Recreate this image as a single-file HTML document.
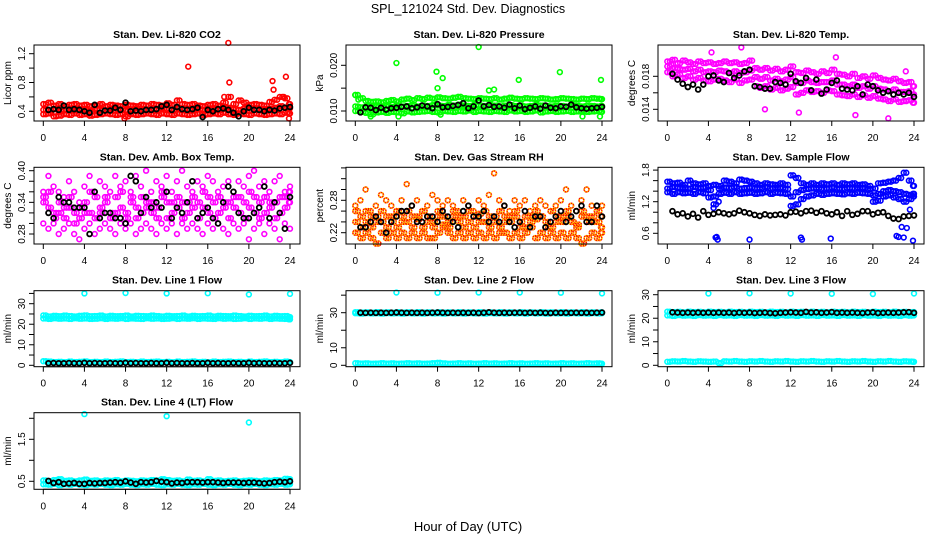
<!DOCTYPE html>
<html><head><meta charset="utf-8"><style>
html,body{margin:0;padding:0;background:#fff}
svg{display:block;font-family:"Liberation Sans",Arial,sans-serif}
</style></head><body>
<svg id="chart" width="936" height="540" viewBox="0 0 936 540">
<text x="468" y="13" text-anchor="middle" font-size="12.5">SPL_121024  Std. Dev. Diagnostics</text>
<text x="468" y="531" text-anchor="middle" font-size="13">Hour of Day (UTC)</text>
</svg>
<script>
const hours=[0,0.5,1,1.5,2,2.5,3,3.5,4,4.5,5,5.5,6,6.5,7,7.5,8,8.5,9,9.5,10,10.5,11,11.5,12,12.5,13,13.5,14,14.5,15,15.5,16,16.5,17,17.5,18,18.5,19,19.5,20,20.5,21,21.5,22,22.5,23,23.5,24];
const hoursQ=[0.25,0.75,1.25,1.75,2.25,2.75,3.25,3.75,4.25,4.75,5.25,5.75,6.25,6.75,7.25,7.75,8.25,8.75,9.25,9.75,10.25,10.75,11.25,11.75,12.25,12.75,13.25,13.75,14.25,14.75,15.25,15.75,16.25,16.75,17.25,17.75,18.25,18.75,19.25,19.75,20.25,20.75,21.25,21.75,22.25,22.75,23.25,23.75,23.9];
const xTicks=[0,4,8,12,16,20,24];
// CO2
const co2Hi=[.50,.52,.48,.50,.47,.49,.50,.48,.49,.47,.48,.50,.47,.49,.48,.47,.49,.48,.47,.49,.48,.50,.49,.48,.51,.49,.55,.50,.49,.50,.48,.47,.49,.50,.48,.52,.60,.50,.55,.52,.49,.50,.49,.48,.53,.56,.60,.58,.50];
const co2Lo=[.36,.37,.33,.34,.36,.35,.37,.35,.36,.34,.35,.36,.37,.36,.35,.36,.33,.36,.35,.36,.37,.36,.35,.37,.36,.35,.37,.36,.35,.36,.37,.35,.36,.37,.36,.38,.36,.35,.37,.36,.35,.37,.36,.35,.36,.37,.36,.38,.37];
const co2Mid=[.42,.41,.43,.40,.42,.44,.41,.43,.42,.40,.43,.42,.41,.44,.42,.43,.41,.42,.44,.42,.41,.43,.42,.44,.43,.42,.45,.43,.42,.41,.43,.42,.44,.43,.42,.46,.45,.43,.42,.44,.41,.43,.42,.43,.44,.45,.47,.45,.44];
const co2Black=[null,.42,.43,.42,.48,.42,.43,.42,.40,.38,.49,.38,.41,.41,.45,.42,.52,.40,.41,.40,.42,.42,.43,.47,.49,.42,.46,.43,.42,.43,.45,.32,.42,.40,.43,.44,.42,.38,.33,.40,.45,.42,.42,.40,.42,.41,.44,.45,.46];
const co2OutX=[14.1,18,18.1,17.6,22.3,22.4,23.6,23.4,23.9,7.9];
const co2OutY=[1.02,1.35,.80,.60,.82,.70,.88,.60,.30,.30];
// Pressure
const presHi=[.0135,.0128,.0122,.0120,.0121,.0119,.0122,.0124,.0121,.0125,.0127,.0124,.0128,.0126,.0129,.0127,.0130,.0128,.0127,.0129,.0131,.0128,.0127,.0126,.0128,.0127,.0126,.0128,.0125,.0127,.0129,.0127,.0126,.0128,.0127,.0126,.0128,.0127,.0125,.0126,.0128,.0127,.0126,.0125,.0127,.0126,.0128,.0127,.0126];
const presLo=[.0100,.0098,.0096,.0093,.0097,.0098,.0096,.0098,.0097,.0095,.0099,.0097,.0098,.0099,.0100,.0098,.0097,.0100,.0099,.0098,.0100,.0099,.0101,.0098,.0100,.0099,.0098,.0100,.0099,.0098,.0101,.0099,.0100,.0098,.0099,.0101,.0097,.0099,.0100,.0098,.0099,.0100,.0098,.0099,.0100,.0098,.0099,.0100,.0098];
const presMid=[.0110,.0108,.0109,.0107,.0110,.0108,.0111,.0109,.0112,.0110,.0111,.0113,.0110,.0112,.0111,.0113,.0112,.0111,.0113,.0112,.0114,.0112,.0111,.0113,.0112,.0111,.0113,.0112,.0110,.0112,.0113,.0111,.0112,.0110,.0111,.0113,.0112,.0111,.0110,.0112,.0111,.0110,.0112,.0111,.0110,.0112,.0111,.0110,.0111];
const presBlack=[null,.0097,.0108,.0107,.0102,.0107,.0103,.0106,.0107,.0109,.0110,.0106,.0108,.0112,.0110,.0106,.0115,.0108,.0109,.0111,.0113,.0117,.0106,.0110,.0123,.0110,.0113,.0109,.0110,.0107,.0114,.0106,.0112,.0104,.0107,.0110,.0105,.0112,.0107,.0106,.0110,.0109,.0114,.0108,.0106,.0105,.0106,.0107,.0109];
const presOutX=[0,0.3,4,7.9,8,8.5,12,13,13.5,15.9,19.9,23.9,1.5,4.2,8.3,22.1,23.8];
const presOutY=[.0135,.0125,.0205,.0186,.0150,.0172,.0240,.0145,.0147,.0168,.0185,.0168,.0088,.0088,.0092,.0088,.0088];
// Li-820 temp
const tHi=[.0198,.0200,.0196,.0199,.0197,.0195,.0198,.0196,.0197,.0195,.0196,.0198,.0196,.0197,.0195,.0196,.0199,.0190,.0188,.0190,.0187,.0189,.0186,.0188,.0192,.0185,.0184,.0187,.0185,.0183,.0186,.0184,.0188,.0183,.0182,.0180,.0183,.0178,.0180,.0177,.0181,.0178,.0176,.0175,.0177,.0174,.0172,.0173,.0168];
const tLo=[.0185,.0180,.0182,.0178,.0180,.0176,.0178,.0175,.0174,.0176,.0177,.0175,.0173,.0176,.0172,.0175,.0176,.0168,.0166,.0168,.0164,.0166,.0163,.0165,.0167,.0158,.0160,.0163,.0161,.0162,.0160,.0163,.0162,.0158,.0157,.0156,.0158,.0155,.0157,.0154,.0156,.0153,.0152,.0150,.0152,.0149,.0150,.0151,.0148];
const tMid=[.0192,.0190,.0189,.0188,.0189,.0186,.0188,.0185,.0186,.0185,.0187,.0186,.0184,.0186,.0184,.0185,.0187,.0179,.0177,.0179,.0175,.0177,.0174,.0176,.0179,.0172,.0172,.0175,.0173,.0172,.0173,.0173,.0175,.0170,.0170,.0168,.0170,.0166,.0168,.0165,.0168,.0165,.0164,.0162,.0164,.0161,.0161,.0162,.0158];
const tBlack=[null,.0183,.0176,.0171,.0167,.0170,.0164,.0170,.0180,.0181,.0175,.0173,.0184,.0178,.0181,.0186,.0188,.0168,.0167,.0165,.0165,.0173,.0172,.0170,.0183,.0174,.0172,.0178,.0163,.0176,.0159,.0164,.0172,.0175,.0165,.0164,.0163,.0168,.0158,.0170,.0168,.0163,.0160,.0162,.0158,.0160,.0158,.0160,.0155];
const tOutX=[7.2,4.3,16.4,9.5,12.8,18.3,21.5,23.2,0.4];
const tOutY=[.0215,.0209,.0203,.0140,.0136,.0133,.0129,.0186,.0194];
// Amb box temp
const ambHi=[.36,.39,.37,.36,.35,.38,.36,.34,.37,.39,.36,.38,.37,.36,.39,.37,.38,.36,.39,.37,.40,.36,.38,.37,.39,.36,.38,.40,.37,.36,.38,.37,.39,.38,.36,.37,.38,.36,.38,.37,.39,.40,.37,.38,.36,.38,.39,.36,.37];
const ambLo=[.30,.29,.30,.28,.29,.30,.28,.27,.29,.30,.28,.29,.30,.29,.28,.30,.29,.30,.28,.29,.30,.29,.28,.30,.29,.30,.28,.30,.29,.30,.29,.28,.30,.29,.30,.29,.28,.30,.29,.30,.27,.29,.30,.28,.30,.29,.27,.30,.29];
const ambMid=[.34,.33,.32,.34,.31,.33,.32,.33,.34,.32,.35,.33,.34,.32,.35,.33,.32,.34,.33,.35,.34,.32,.33,.35,.34,.32,.33,.34,.32,.35,.34,.33,.35,.34,.32,.33,.34,.35,.32,.34,.33,.35,.34,.32,.33,.34,.35,.33,.34];
const ambMid2=[.35,.36,.31,.32,.33,.35,.30,.31,.32,.36,.31,.32,.35,.31,.32,.36,.31,.35,.31,.32,.33,.34,.31,.36,.31,.34,.35,.31,.34,.33,.31,.36,.32,.31,.35,.34,.31,.33,.35,.31,.36,.32,.31,.35,.34,.31,.32,.35,.36];
const ambBlack=[null,.32,.31,.35,.34,.34,.33,.33,.33,.28,.36,.31,.32,.32,.31,.31,.30,.39,.38,.32,.35,.33,.34,.33,.36,.31,.33,.32,.34,.38,.31,.32,.33,.31,.30,.34,.37,.36,.32,.31,.31,.32,.33,.37,.31,.34,.32,.29,.35];
// Gas stream RH
const rhHi=[.27,.28,.30,.26,.27,.29,.28,.27,.26,.28,.31,.27,.28,.26,.27,.29,.28,.27,.28,.27,.26,.28,.27,.26,.28,.27,.29,.33,.28,.27,.26,.28,.27,.28,.26,.27,.28,.27,.26,.27,.28,.30,.27,.26,.28,.30,.27,.26,.27];
const rhLo=[.22,.21,.22,.21,.20,.22,.21,.22,.21,.22,.21,.22,.21,.22,.21,.21,.22,.23,.22,.21,.22,.21,.22,.21,.22,.21,.22,.21,.22,.22,.21,.22,.21,.22,.23,.21,.22,.21,.22,.21,.22,.21,.22,.21,.20,.21,.22,.21,.22];
const rhMid=[.24,.25,.24,.23,.25,.24,.25,.24,.23,.25,.24,.25,.245,.23,.25,.24,.25,.235,.23,.25,.24,.25,.24,.23,.255,.24,.25,.24,.23,.25,.24,.25,.24,.23,.25,.245,.25,.24,.23,.25,.24,.25,.24,.235,.25,.24,.25,.24,.23];
const rhMid2=[.26,.23,.26,.25,.24,.26,.23,.25,.26,.24,.26,.23,.25,.26,.24,.23,.26,.25,.24,.26,.25,.23,.26,.25,.24,.26,.23,.25,.26,.24,.25,.26,.23,.25,.24,.26,.25,.23,.26,.24,.25,.26,.24,.23,.26,.25,.24,.26,.25];
const rhBlack=[null,.23,.23,.24,.25,.24,.22,.24,.25,.26,.26,.27,.24,.24,.25,.25,.24,.26,.25,.24,.23,.26,.27,.25,.25,.26,.24,.25,.24,.27,.24,.23,.24,.26,.23,.25,.25,.23,.24,.25,.26,.24,.25,.26,.27,.24,.24,.27,.25];
// Sample flow
const sfHi=[1.58,1.55,1.56,1.52,1.60,1.55,1.53,1.55,1.50,1.52,1.50,1.60,1.58,1.55,1.62,1.60,1.58,1.55,1.52,1.55,1.53,1.52,1.55,1.52,1.70,1.65,1.55,1.52,1.55,1.52,1.55,1.53,1.55,1.52,1.55,1.53,1.55,1.52,1.53,1.50,1.45,1.55,1.56,1.58,1.60,1.65,1.75,1.60,1.50];
const sfLo=[1.38,1.35,1.38,1.36,1.37,1.35,1.38,1.36,1.28,1.15,1.35,1.37,1.35,1.38,1.35,1.36,1.37,1.35,1.36,1.38,1.35,1.37,1.36,1.35,1.12,1.15,1.25,1.30,1.32,1.35,1.33,1.35,1.36,1.35,1.34,1.36,1.35,1.37,1.36,1.35,1.20,1.22,1.30,1.32,1.28,1.25,1.20,1.25,1.30];
const sfMid=[1.45,1.48,1.46,1.47,1.45,1.48,1.46,1.47,1.42,1.30,1.45,1.47,1.46,1.48,1.45,1.46,1.47,1.45,1.46,1.48,1.45,1.47,1.46,1.44,1.30,1.38,1.42,1.44,1.45,1.46,1.44,1.45,1.47,1.45,1.44,1.46,1.45,1.47,1.46,1.44,1.32,1.35,1.40,1.42,1.40,1.38,1.35,1.33,1.35];
const sfBlack=[null,1.02,.96,.98,.92,.97,.90,1.02,.95,.97,1.00,.98,.96,.98,1.03,1.00,.98,.95,.93,.96,.94,.95,.96,.94,1.00,1.01,.98,1.02,1.03,.99,1.02,.98,.96,1.00,.93,1.02,.95,.97,1.02,1.02,.96,.99,1.00,.93,.88,.87,.92,.93,.94];
const sfOutX=[4.7,4.8,4.9,5.0,8,13,13.1,15.9,22.3,22.5,23,23.9,4.5,22.8,23.3,23.6];
const sfOutY=[.52,.53,.48,1.2,.48,.52,.48,.50,.55,.53,.52,.46,1.08,.72,.70,1.05];
// Line flows
const l1Hi=[24.3,23.8,24.1,23.9,24.2,24.0,23.8,24.1,24.3,23.9,24.0,24.2,23.8,24.1,23.9,24.0,24.2,23.8,24.1,24.0,23.9,24.2,24.0,23.8,24.1,23.9,24.0,24.2,23.8,24.1,23.9,24.0,24.2,23.8,24.1,24.0,23.9,24.2,24.0,23.8,24.1,23.9,24.0,24.2,23.8,24.1,23.9,24.0,23.5];
const l1Lo=[22.8,22.6,22.9,22.7,22.8,22.6,22.9,22.7,22.8,22.6,22.7,22.9,22.6,22.8,22.7,22.9,22.6,22.8,22.7,22.6,22.9,22.7,22.8,22.6,22.7,22.9,22.6,22.8,22.7,22.9,22.6,22.8,22.7,22.6,22.9,22.7,22.8,22.6,22.7,22.9,22.6,22.8,22.7,22.9,22.6,22.8,22.7,22.6,22.4];
const l1Low=[2.0,1.8,1.6,1.7,1.5,1.8,1.6,1.7,1.9,1.6,1.7,1.5,1.8,1.6,1.7,1.9,1.6,1.7,1.5,1.8,1.6,1.7,1.8,1.6,1.7,1.5,1.8,1.6,1.7,1.9,1.6,1.7,1.5,1.8,1.6,1.7,1.8,1.6,1.7,1.5,1.8,1.6,1.7,1.9,1.6,1.7,1.5,1.8,1.6];
const l1Black=[null,1.0,1.1,1.0,1.0,1.1,1.0,1.0,1.2,1.0,1.1,1.0,1.0,1.1,1.0,1.0,1.2,1.0,1.1,1.0,1.0,1.1,1.0,1.0,1.2,1.0,1.1,1.0,1.0,1.1,1.0,1.0,1.2,1.0,1.1,1.0,1.0,1.1,1.0,1.0,1.2,1.0,1.1,1.0,1.0,1.1,1.0,1.0,1.2];
const l1OutX=[4,8,12,16,20,24];
const l1OutY=[35.0,35.2,35.0,35.1,34.5,34.8];
const l2Hi=[30.3,30.1,30.2,30.0,30.3,30.1,30.2,30.0,30.3,30.1,30.2,30.0,30.3,30.1,30.2,30.0,30.3,30.1,30.2,30.0,30.3,30.1,30.2,30.0,30.3,30.1,30.2,30.0,30.3,30.1,30.2,30.0,30.3,30.1,30.2,30.0,30.3,30.1,30.2,30.0,30.3,30.1,30.2,30.0,30.3,30.1,30.2,30.0,30.2];
const l2Lo=[29.7,29.5,29.8,29.6,29.7,29.5,29.8,29.6,29.7,29.5,29.8,29.6,29.7,29.5,29.8,29.6,29.7,29.5,29.8,29.6,29.7,29.5,29.8,29.6,29.7,29.5,29.8,29.6,29.7,29.5,29.8,29.6,29.7,29.5,29.8,29.6,29.7,29.5,29.8,29.6,29.7,29.5,29.8,29.6,29.7,29.5,29.8,29.6,29.7];
const l2Low=[1.2,1.0,1.1,0.9,1.0,1.2,1.0,1.1,0.9,1.0,1.2,1.0,1.1,0.9,1.0,1.2,1.4,1.1,0.9,1.0,1.2,1.0,1.1,0.9,1.0,1.2,1.0,1.1,0.9,1.0,1.2,1.0,1.1,0.9,1.0,1.2,1.0,1.1,0.9,1.0,1.2,1.0,1.1,0.9,1.0,1.2,1.0,1.1,0.9];
const l2Black=[null,30.0,29.9,30.0,29.9,30.0,29.9,30.0,30.1,30.0,29.9,30.0,29.9,30.0,29.9,30.0,30.1,30.0,29.9,30.0,29.9,30.0,29.9,30.0,29.8,30.0,30.2,30.0,29.9,30.0,29.9,30.0,30.0,29.9,30.0,29.9,30.0,29.9,29.8,30.0,29.9,30.0,29.9,30.0,29.9,30.0,29.9,30.0,30.1];
const l2OutX=[4,8,12,16,20,24];
const l2OutY=[41.5,41.4,41.5,41.5,41.4,41.0];
const l3Hi=[22.8,22.6,22.7,22.5,22.8,22.6,22.7,22.5,22.8,22.6,22.7,22.5,22.8,22.6,22.7,22.5,22.8,22.6,22.7,22.5,22.8,22.6,22.7,22.5,22.8,22.6,22.7,22.5,22.8,22.6,22.7,22.5,22.8,22.6,22.7,22.5,22.8,22.6,22.7,22.5,22.8,22.6,22.7,22.5,22.8,22.6,22.7,22.5,22.6];
const l3Lo=[21.2,21.0,21.3,21.1,21.2,21.0,21.3,21.1,21.2,21.0,21.3,21.1,21.2,21.0,21.3,21.1,21.2,21.0,21.3,21.1,21.2,21.0,21.3,21.1,21.2,21.0,21.3,21.1,21.2,21.0,21.3,21.1,21.2,21.0,21.3,21.1,21.2,21.0,21.3,21.1,21.2,21.0,21.3,21.1,21.2,21.0,21.3,21.1,21.2];
const l3Low=[1.5,1.7,1.6,1.8,1.6,1.5,1.7,1.6,1.5,1.6,1.0,1.7,1.6,1.8,1.6,1.5,1.7,1.6,1.8,1.6,1.5,1.7,1.6,1.8,1.6,1.5,1.7,1.6,1.8,1.6,1.5,1.7,1.6,1.8,1.6,1.5,1.7,1.6,1.8,1.6,1.5,1.7,1.6,1.8,1.6,1.5,1.7,1.6,1.5];
const l3Black=[null,22.5,22.4,22.3,22.4,22.3,22.4,22.3,22.4,22.3,22.4,22.3,22.4,22.2,22.4,22.3,22.4,22.2,22.3,22.4,22.2,22.1,22.3,22.4,22.5,22.4,22.3,22.7,22.4,22.5,22.3,22.4,22.6,22.3,22.4,22.3,22.4,22.3,22.2,22.4,22.5,22.2,22.3,22.4,22.3,22.4,22.5,22.6,22.3];
const l3OutX=[4,8,12,16,20,24];
const l3OutY=[30.5,30.6,30.5,30.4,30.3,30.5];
const l4Hi=[.52,.50,.53,.55,.51,.52,.50,.52,.54,.51,.52,.50,.52,.51,.53,.50,.52,.51,.50,.52,.51,.53,.52,.55,.53,.51,.52,.50,.54,.51,.52,.50,.55,.51,.52,.50,.51,.52,.50,.51,.52,.51,.50,.52,.51,.53,.52,.56,.55];
const l4Lo=[.43,.42,.44,.41,.43,.42,.44,.42,.41,.43,.42,.44,.42,.41,.43,.42,.44,.42,.41,.43,.42,.44,.42,.41,.43,.42,.44,.42,.41,.43,.42,.44,.42,.41,.43,.42,.44,.42,.41,.43,.42,.44,.42,.41,.43,.42,.44,.42,.43];
const l4Black=[null,.51,.46,.48,.44,.45,.46,.44,.44,.46,.45,.46,.46,.47,.48,.47,.50,.47,.44,.48,.47,.48,.51,.49,.48,.45,.47,.46,.48,.48,.48,.47,.48,.48,.47,.46,.47,.47,.47,.46,.47,.47,.46,.45,.46,.48,.49,.48,.50];
const l4OutX=[4,12,20];
const l4OutY=[2.10,2.05,1.90];

const svg=document.getElementById('chart');
const NS='http://www.w3.org/2000/svg';
function mk(tag,attrs,parent){const e=document.createElementNS(NS,tag);for(const k in attrs)e.setAttribute(k,attrs[k]);(parent||svg).appendChild(e);return e;}
const colL=[34,346,658], rowT=[45,167.3,290.7,412.7], rowB=[121,244,366.7,489.3];

function panel(key,c,r,title,ylab,yCal,yTicks,yLabels,series){
  const L=colL[c],R=L+266,T=rowT[r],B=rowB[r];
  const g=mk('g',{});
  
  
  const xs=h=>L+9.3+h*(246.7/24);
  const k=(yCal[1][1]-yCal[0][1])/(yCal[1][0]-yCal[0][0]);
  const ys=v=>yCal[0][1]+(v-yCal[0][0])*k;
  const t=mk('text',{x:(L+R)/2,y:T-7,'text-anchor':'middle','font-size':10.5,'font-weight':'bold'},g);
  t.textContent=title;
  
  
  const yl=mk('text',{x:0,y:0,'text-anchor':'middle','font-size':10,transform:`translate(${L-23},${(T+B)/2}) rotate(-90)`},g);
  yl.textContent=ylab;
  
  
  const pts=mk('g',{fill:'none'},g);
  
  
  function dot(cx,cy,s){
    if(s.kind==='rh'){
      const a=mk('circle',{cx,cy,r:2.4,stroke:'#ff0000','stroke-width':1.6},pts);
      
      
      mk('circle',{cx,cy,r:2.4,stroke:'#ffcc00','stroke-width':1.6,'stroke-dasharray':'1.2 1.2'},pts);
    }else{
      const a=mk('circle',{cx,cy,r:2.4,stroke:s.col,'stroke-width':s.col==='#000'?1.8:1.6},pts);
      
      
    }
  }
  series.forEach(s=>{
    s.y.forEach((v,i)=>{
      if(v===null||v===undefined)return;
      dot(xs(s.x[i]),ys(v),s);
      if(s.dense) dot(xs(hoursQ[i]),ys(v),s);
    });
  });
  const box=mk('rect',{x:L,y:T,width:R-L,height:B-T,fill:'none',stroke:'#000','stroke-width':1},g);
  
  
  const xa=mk('g',{},g);
  
  
  mk('line',{x1:xs(0),x2:xs(24),y1:B,y2:B,stroke:'#000'},xa);
  xTicks.forEach(h=>{
    mk('line',{x1:xs(h),x2:xs(h),y1:B,y2:B+5,stroke:'#000'},xa);
    const tt=mk('text',{x:xs(h),y:B+20,'text-anchor':'middle','font-size':10},xa);
    tt.textContent=h;
  });
  const ya=mk('g',{},g);
  
  
  mk('line',{x1:L,x2:L,y1:ys(yTicks[0]),y2:ys(yTicks[yTicks.length-1]),stroke:'#000'},ya);
  yTicks.forEach(v=>mk('line',{x1:L-5,x2:L,y1:ys(v),y2:ys(v),stroke:'#000'},ya));
  yLabels.forEach(lbl=>{
    const tt=mk('text',{x:0,y:0,'text-anchor':'middle','font-size':10,transform:`translate(${L-9},${ys(parseFloat(lbl))}) rotate(-90)`},ya);
    tt.textContent=lbl;
  });
}
const cyan='#00ffff';
panel('co2',0,0,'Stan. Dev. Li-820 CO2','Licor ppm',[[0.4,111.3],[1.2,53.7]],[0.4,0.6,0.8,1.0,1.2],['0.4','0.8','1.2'],
 [{x:hours,y:co2Hi,col:'#ff0000',dense:1},{x:hours,y:co2Lo,col:'#ff0000',dense:1},{x:hours,y:co2Mid,col:'#ff0000',dense:1},{x:co2OutX,y:co2OutY,col:'#ff0000'},{x:hours,y:co2Black,col:'#000'}]);
panel('pressure',1,0,'Stan. Dev. Li-820 Pressure','kPa',[[0.010,111],[0.020,65.3]],[0.010,0.015,0.020],['0.010','0.020'],
 [{x:hours,y:presHi,col:'#00ff00',dense:1},{x:hours,y:presLo,col:'#00ff00',dense:1},{x:hours,y:presMid,col:'#00ff00',dense:1},{x:presOutX,y:presOutY,col:'#00ff00'},{x:hours,y:presBlack,col:'#000'}]);
panel('licor-temp',2,0,'Stan. Dev. Li-820 Temp.','degrees C',[[0.014,109.3],[0.018,76.3]],[0.014,0.016,0.018],['0.014','0.018'],
 [{x:hours,y:tHi,col:'#ff00ff',dense:1},{x:hours,y:tLo,col:'#ff00ff',dense:1},{x:hours,y:tMid,col:'#ff00ff',dense:1},{x:tOutX,y:tOutY,col:'#ff00ff'},{x:hours,y:tBlack,col:'#000'}]);
panel('amb-box-temp',0,1,'Stan. Dev. Amb. Box Temp.','degrees C',[[0.28,234],[0.40,170.7]],[0.28,0.30,0.32,0.34,0.36,0.38,0.40],['0.28','0.34','0.40'],
 [{x:hours,y:ambHi,col:'#ff00ff'},{x:hours,y:ambLo,col:'#ff00ff'},{x:hours,y:ambMid,col:'#ff00ff',dense:1},{x:hours,y:ambMid2,col:'#ff00ff',dense:1},{x:hours,y:ambBlack,col:'#000'}]);
panel('gas-rh',1,1,'Stan. Dev. Gas Stream RH','percent',[[0.22,232.7],[0.28,200.3]],[0.22,0.24,0.26,0.28,0.30,0.32,0.34],['0.22','0.28'],
 [{x:hours,y:rhHi,kind:'rh'},{x:hours,y:rhLo,kind:'rh',dense:1},{x:hours,y:rhMid,kind:'rh',dense:1},{x:hours,y:rhMid2,kind:'rh',dense:1},{x:hours,y:rhBlack,col:'#000'}]);
panel('sample-flow',2,1,'Stan. Dev. Sample Flow','ml/min',[[0.6,233.3],[1.2,201.7]],[0.6,0.8,1.0,1.2,1.4,1.6,1.8],['0.6','1.2','1.8'],
 [{x:hours,y:sfHi,col:'#0000ff',dense:1},{x:hours,y:sfLo,col:'#0000ff',dense:1},{x:hours,y:sfMid,col:'#0000ff',dense:1},{x:sfOutX,y:sfOutY,col:'#0000ff'},{x:hours,y:sfBlack,col:'#000'}]);
panel('line1-flow',0,2,'Stan. Dev. Line 1 Flow','ml/min',[[0,365.3],[30,303.7]],[0,5,10,15,20,25,30,35],['0','10','20','30'],
 [{x:hours,y:l1Hi,col:cyan,dense:1},{x:hours,y:l1Lo,col:cyan,dense:1},{x:hours,y:l1Low,col:cyan,dense:1},{x:l1OutX,y:l1OutY,col:cyan},{x:hours,y:l1Black,col:'#000'}]);
panel('line2-flow',1,2,'Stan. Dev. Line 2 Flow','ml/min',[[0,365.3],[30,312.7]],[0,10,20,30,40],['0','10','30'],
 [{x:hours,y:l2Hi,col:cyan,dense:1},{x:hours,y:l2Lo,col:cyan,dense:1},{x:hours,y:l2Low,col:cyan,dense:1},{x:l2OutX,y:l2OutY,col:cyan},{x:hours,y:l2Black,col:'#000'}]);
panel('line3-flow',2,2,'Stan. Dev. Line 3 Flow','ml/min',[[0,365.3],[30,294.7]],[0,5,10,15,20,25,30],['0','10','20','30'],
 [{x:hours,y:l3Hi,col:cyan,dense:1},{x:hours,y:l3Lo,col:cyan,dense:1},{x:hours,y:l3Low,col:cyan,dense:1},{x:l3OutX,y:l3OutY,col:cyan},{x:hours,y:l3Black,col:'#000'}]);
panel('line4-flow',0,3,'Stan. Dev. Line 4 (LT) Flow','ml/min',[[0.5,481.3],[1.5,439.3]],[0.5,1.0,1.5,2.0],['0.5','1.5'],
 [{x:hours,y:l4Hi,col:cyan,dense:1},{x:hours,y:l4Lo,col:cyan,dense:1},{x:l4OutX,y:l4OutY,col:cyan},{x:hours,y:l4Black,col:'#000'}]);
</script>
</body></html>
